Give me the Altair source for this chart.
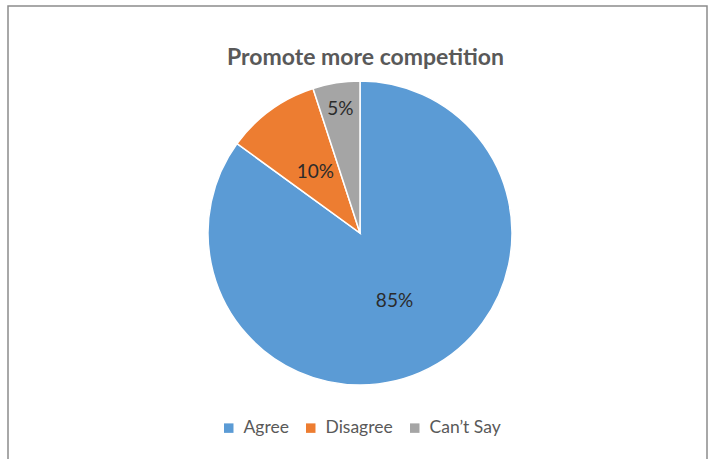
import altair as alt
import pandas as pd

categories = ["Agree", "Disagree", "Can\u2019t Say"]
values = [85, 10, 5]
labels = ["85%", "10%", "5%"]
colors = ["#5B9BD5", "#ED7D31", "#A5A5A5"]
title_text = "Promote more competition"

df = pd.DataFrame({
    "cat": categories,
    "val": values,
    "lab": labels,
    "idx": list(range(len(categories))),
})

base = alt.Chart(df)

arcs = base.mark_arc(stroke="white", strokeWidth=1.5, radius=152).encode(
    theta=alt.Theta("val:Q", stack=True),
    order=alt.Order("idx:Q"),
    x=alt.value(360),
    y=alt.value(233),
    color=alt.Color(
        "cat:N",
        scale=alt.Scale(domain=categories, range=colors),
        sort=categories,
        legend=alt.Legend(
            title=None,
            orient="none",
            direction="horizontal",
            legendX=220,
            legendY=419,
            symbolType="square",
            symbolSize=90,
            symbolStrokeWidth=0,
            labelFontSize=17.5,
            labelColor="#595959",
            labelFont="Lato",
            labelOffset=6,
            columnPadding=13,
        ),
    ),
)

text_common = dict(fontSize=19, font="Lato", color="#2B2B2B", align="center", baseline="middle")


def label_layer(radius, keep):
    return base.transform_window(
        cum="sum(val)", sort=[alt.SortField("idx")]
    ).transform_calculate(
        mid="datum.cum - datum.val / 2"
    ).transform_filter(
        alt.FieldOneOfPredicate(field="cat", oneOf=keep)
    ).mark_text(radius=radius, **text_common).encode(
        theta=alt.Theta("mid:Q", scale=alt.Scale(domain=[0, 100]), stack=False),
        x=alt.value(360),
        y=alt.value(233),
        text="lab:N",
    )


lab1 = label_layer(76, categories[:2])
lab2 = label_layer(126, categories[2:])

border = base.mark_rect(fill=None, stroke="#8C8C8C", strokeWidth=1.5).encode(
    x=alt.value(8), x2=alt.value(707), y=alt.value(6), y2=alt.value(480)
).transform_filter(alt.FieldEqualPredicate(field="idx", equal=0))

chart = alt.layer(border, arcs, lab1, lab2).resolve_scale(theta="independent").properties(
    width=711,
    height=459,
    padding=0,
    autosize=alt.AutoSizeParams(type="none"),
    title=alt.TitleParams(
        title_text,
        fontSize=23,
        fontWeight="bold",
        color="#595959",
        font="Lato",
        anchor="middle",
        orient="top",
        offset=-70,
        dx=10,
    ),
).configure_view(stroke=None)

chart.save("out.html", embed_options={"renderer": "svg", "actions": False})
